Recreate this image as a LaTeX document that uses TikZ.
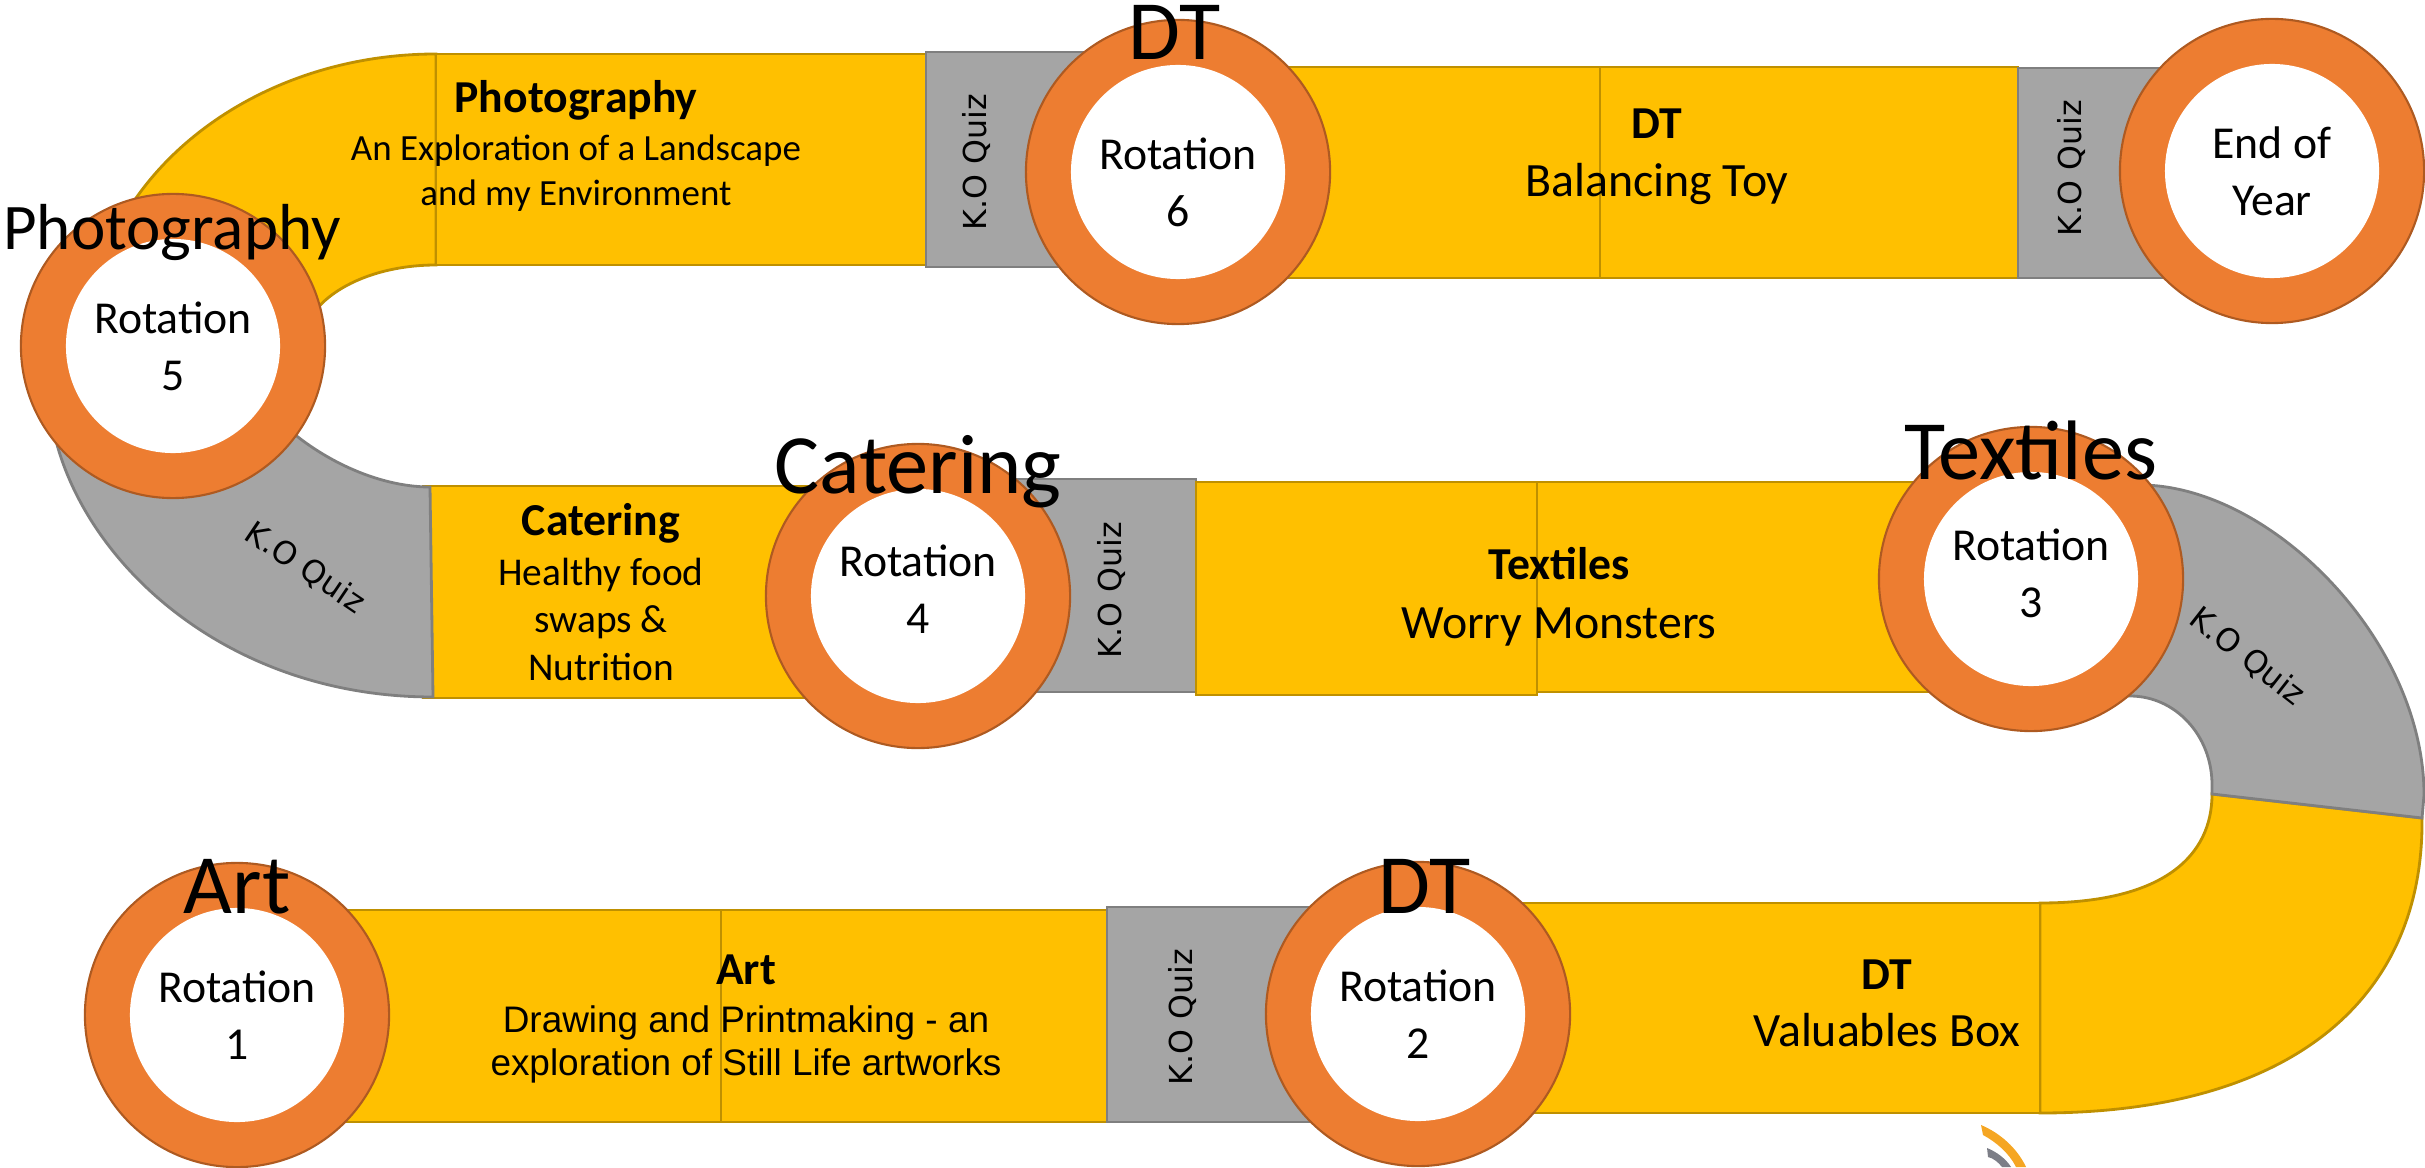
\documentclass[tikz,border=0pt]{standalone}
\usepackage{fontspec}
\setmainfont{Carlito}
\newfontfamily\quizfont{DejaVu Sans}
\newfontfamily\artfont{Liberation Sans}
\usepackage{tikz}
\definecolor{ringorange}{HTML}{ED7D31}
\definecolor{ringedge}{HTML}{AE5A21}
\definecolor{bandyellow}{HTML}{FFC000}
\definecolor{bandedge}{HTML}{BF9000}
\definecolor{quizgray}{HTML}{A5A5A5}
\definecolor{quizedge}{HTML}{7F7F7F}
\definecolor{logoorange}{HTML}{F5A623}
\definecolor{logogray}{HTML}{7C7E87}
\tikzset{
	rot node/.style={circle,draw=ringedge,fill=ringorange,line width=0.6pt,minimum size=3.04cm,inner sep=0pt,
		path picture={\fill[white] (path picture bounding box.center) circle (1.07cm);}},
	rot text/.style={align=center,inner sep=0pt,font=\fontsize{13}{16.2}\selectfont},
	band/.style={draw=bandedge,fill=bandyellow,line width=0.8pt},
	quiz/.style={draw=quizedge,fill=quizgray,line width=0.8pt},
	quiz text/.style={font=\quizfont\fontsize{9}{11}\selectfont,inner sep=0pt},
	big label/.style={anchor=base,inner sep=0pt,font=\fontsize{24}{28}\selectfont},
	box text/.style={align=center,inner sep=0pt}
}

\begin{document}
\begin{tikzpicture}[x=0.01cm,y=-0.01cm]
	\useasboundingbox (0,0) rectangle (2425,1167);

	\draw[band] (436,54) .. controls (244,54) and (88,185) .. (88,346) -- (302,346) .. controls (302,301) and (362,265) .. (436,265) -- cycle;
	\draw[band] (436,54) rectangle (926,265);
	\draw[quiz] (926,52) rectangle (1150,267);
	\draw[band] (1250,67) rectangle (1600,278);
	\draw[band] (1600,67) rectangle (2018,278);
	\draw[quiz] (2018,68) rectangle (2200,278);

	\draw[band] (423,486) rectangle (860,698);
	\draw[quiz] (49,400) .. controls (60,540) and (210,697) .. (433,697) -- (430,487) .. controls (370,487) and (300,450) .. (260,400) -- cycle;
	\draw[quiz] (1000,479) rectangle (1196,692);
	\draw[band] (1196,482) rectangle (1537,695);
	\draw[band] (1537,482) rectangle (1950,692);
	\draw[band] (2212,794) -- (2422,818) .. controls (2424,1000) and (2290,1113) .. (2040,1113) -- (2040,903) .. controls (2165,903) and (2212,855) .. (2212,794) -- cycle;
	\draw[quiz] (2080,485) -- (2140,485) .. controls (2270,485) and (2424,640) .. (2424,795) -- (2422,818) -- (2212,794) -- (2212,785) .. controls (2212,735) and (2175,696) .. (2130,696) -- (2080,696) -- cycle;

	\draw[band] (300,910) rectangle (721,1122);
	\draw[band] (721,910) rectangle (1107,1122);
	\draw[quiz] (1107,907) rectangle (1340,1122);
	\draw[band] (1500,903) rectangle (2040,1113);

	\node[rot node] (1) at (237,1015) {};
	\node[rot node] (2) at (1418,1014) {};
	\node[rot node] (3) at (2031,579) {};
	\node[rot node] (4) at (918,596) {};
	\node[rot node] (5) at (173,346) {};
	\node[rot node] (6) at (1178,172) {};
	\node[rot node] (7) at (2272,171) {};

	\node[rot text] (r1) at (1.center) {Rotation\\1};
	\node[rot text] (r2) at (2.center) {Rotation\\2};
	\node[rot text] (r3) at ([yshift=0.06cm]3.center) {Rotation\\3};
	\node[rot text] (r4) at ([yshift=0.07cm]4.center) {Rotation\\4};
	\node[rot text] (r5) at (5.center) {Rotation\\5};
	\node[rot text] (r6) at ([yshift=-0.1cm]6.center) {Rotation\\6};
	\node[rot text] (r7) at (7.center) {End of\\Year};

	\node[big label] (l1) at (237,913) {Art};
	\node[big label] (l2) at (1425,913) {DT};
	\node[big label] (l3) at (2031,479) {Textiles};
	\node[big label] (l4) at (918,493) {Catering};
	\node[big label,font=\fontsize{18.5}{22}\selectfont] (l5) at (172,250) {Photography};
	\node[big label] (l6) at (1175,60) {DT};

	\node[box text,font=\fontsize{10.5}{12.8}\selectfont] (t5) at (576,146)
		{{\bfseries\fontsize{13}{15}\selectfont Photography}\\[0.9pt]An Exploration of a Landscape\\and my Environment};
	\node[box text,font=\fontsize{13.6}{16.5}\selectfont] (t6) at (1657,157)
		{{\bfseries\fontsize{13}{15}\selectfont DT}\\Balancing Toy};
	\node[box text,font=\fontsize{11.2}{13.6}\selectfont] (t4) at (601,592)
		{{\bfseries\fontsize{13}{15}\selectfont Catering}\\[0.6pt]Healthy food\\swaps \&\\Nutrition};
	\node[box text,font=\fontsize{13.6}{16.8}\selectfont] (t3) at (1559,597)
		{{\bfseries\fontsize{13}{15}\selectfont Textiles}\\Worry Monsters};
	\node[box text,font=\artfont\fontsize{10.5}{12.2}\selectfont] (t1) at (746,1019)
		{{\normalfont\bfseries\fontsize{13}{15}\selectfont Art}\\[1.2pt]Drawing and Printmaking - an\\exploration of Still Life artworks};
	\node[box text,font=\fontsize{13.6}{16.2}\selectfont] (t2) at (1887,1003)
		{{\bfseries\fontsize{13}{15}\selectfont DT}\\Valuables Box};

	\node[quiz text,rotate=90] (q6) at (976,162) {K.O Quiz};
	\node[quiz text,rotate=90] (q7) at (2071,168) {K.O Quiz};
	\node[quiz text,rotate=90] (q4) at (1111,590) {K.O Quiz};
	\node[quiz text,rotate=90] (q1) at (1182,1017) {K.O Quiz};
	\node[quiz text,rotate=-34] (q5) at (305,568) {K.O Quiz};
	\node[quiz text,rotate=-38] (q3) at (2247,657) {K.O Quiz};

	\fill[logoorange] (1981,1125) .. controls (2000,1133) and (2017,1148) .. (2026,1167) -- (2016,1167) .. controls (2009,1153) and (1996,1142) .. (1983,1135) -- cycle;
	\fill[logogray] (1987,1148) .. controls (1997,1152) and (2006,1159) .. (2011,1167) -- (2002,1167) .. controls (1998,1162) and (1993,1158) .. (1988,1157) -- cycle;
\end{tikzpicture}
\end{document}
